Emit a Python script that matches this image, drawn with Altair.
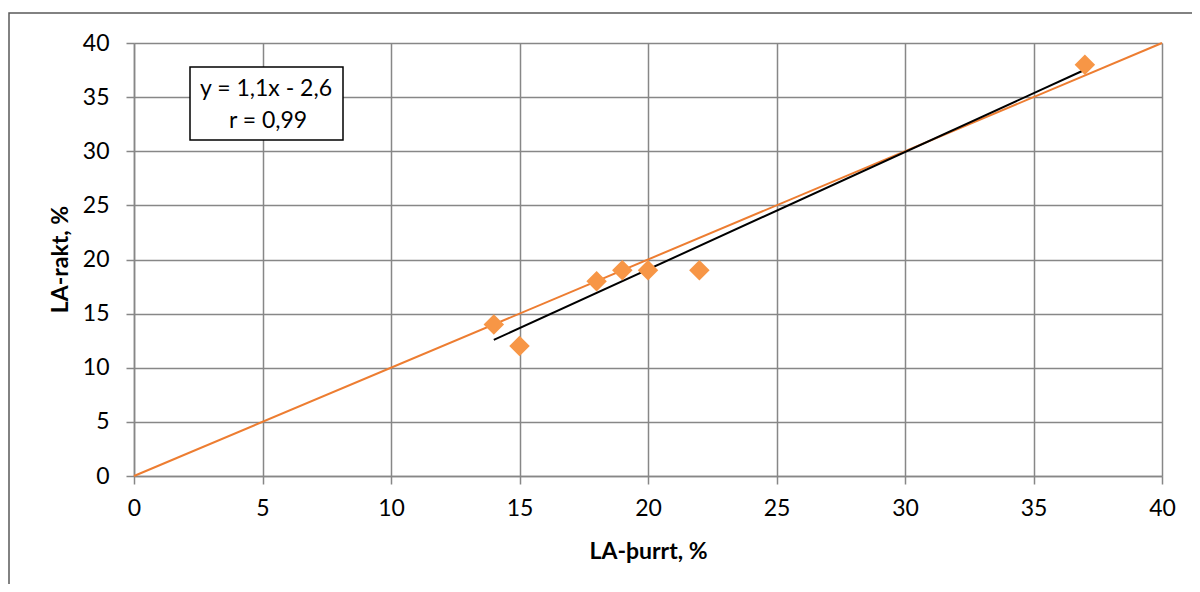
import altair as alt
import pandas as pd

# Measured data (LA-þurrt vs LA-rakt)
la_thurrt = [14, 15, 18, 19, 20, 22, 37]
la_rakt = [14, 12, 18, 19, 19, 19, 38]

# 1:1 reference line
ref_x = [0, 40]
ref_y = [0, 40]

eq_lines = ["y = 1,1x - 2,6", "r = 0,99"]

pts = pd.DataFrame({"x": la_thurrt, "y": la_rakt})
ref = pd.DataFrame({"x": ref_x, "y": ref_y})

FONT = "Lato"
GRID = "#878787"
FS = 23

xscale = alt.Scale(domain=[0, 40], nice=False)
yscale = alt.Scale(domain=[0, 40], nice=False)

xaxis = alt.Axis(values=list(range(0, 41, 5)), title="LA-þurrt, %",
                 grid=True, gridColor=GRID, gridWidth=1.5, labelFlush=False,
                 domainColor=GRID, domainWidth=1.5, tickColor=GRID, tickWidth=1.5, tickSize=8,
                 labelFont=FONT, labelFontSize=FS, labelColor="black", labelPadding=13,
                 titleFont=FONT, titleFontSize=FS, titleFontWeight="bold", titleColor="black",
                 titleX=514, titleY=75, titleBaseline="middle")
yaxis = alt.Axis(values=list(range(0, 41, 5)), title="LA-rakt, %",
                 grid=True, gridColor=GRID, gridWidth=1.5, labelFlush=False,
                 domainColor=GRID, domainWidth=1.5, tickColor=GRID, tickWidth=1.5, tickSize=8,
                 labelFont=FONT, labelFontSize=FS, labelColor="black", labelPadding=17,
                 titleFont=FONT, titleFontSize=FS, titleFontWeight="bold", titleColor="black",
                 titleX=-74, titleY=216, titleAngle=-90, titleBaseline="middle", titleAlign="center")

frame = alt.Chart(pd.DataFrame({"a": [0]})).mark_rect(
    fill=None, stroke="#595959", strokeWidth=1.5
).encode(x=alt.value(-125), x2=alt.value(1200), y=alt.value(-30), y2=alt.value(650))

ref_line = alt.Chart(ref).mark_line(color="#ED7D31", strokeWidth=2).encode(
    x=alt.X("x:Q", scale=xscale, axis=xaxis),
    y=alt.Y("y:Q", scale=yscale, axis=yaxis),
)

points = alt.Chart(pts).mark_point(shape="diamond", filled=True, size=420,
                                   color="#F79646", opacity=1).encode(
    x=alt.X("x:Q", scale=xscale),
    y=alt.Y("y:Q", scale=yscale),
)

trend = alt.Chart(pts).transform_regression("x", "y").mark_line(
    color="black", strokeWidth=2).encode(
    x=alt.X("x:Q", scale=xscale),
    y=alt.Y("y:Q", scale=yscale),
)

box = alt.Chart(pd.DataFrame({"a": [0]})).mark_rect(
    fill="white", stroke="black", strokeWidth=1.5
).encode(x=alt.value(56), x2=alt.value(209), y=alt.value(24), y2=alt.value(97))

label1 = alt.Chart(pd.DataFrame({"t": [eq_lines[0]]})).mark_text(
    font=FONT, fontSize=FS, color="black", align="center", baseline="middle"
).encode(text="t:N", x=alt.value(132), y=alt.value(46))
label2 = alt.Chart(pd.DataFrame({"t": [eq_lines[1]]})).mark_text(
    font=FONT, fontSize=FS, color="black", align="center", baseline="middle"
).encode(text="t:N", x=alt.value(134), y=alt.value(78))

chart = alt.layer(frame, ref_line, trend, points, box, label1, label2).properties(
    width=1028, height=433,
    autosize=alt.AutoSizeParams(type="none"),
    padding={"left": 126, "top": 35, "right": 30, "bottom": 108},
    background="white",
).configure_view(stroke=None)

chart.save("out.html", embed_options={"renderer": "svg", "actions": False})
